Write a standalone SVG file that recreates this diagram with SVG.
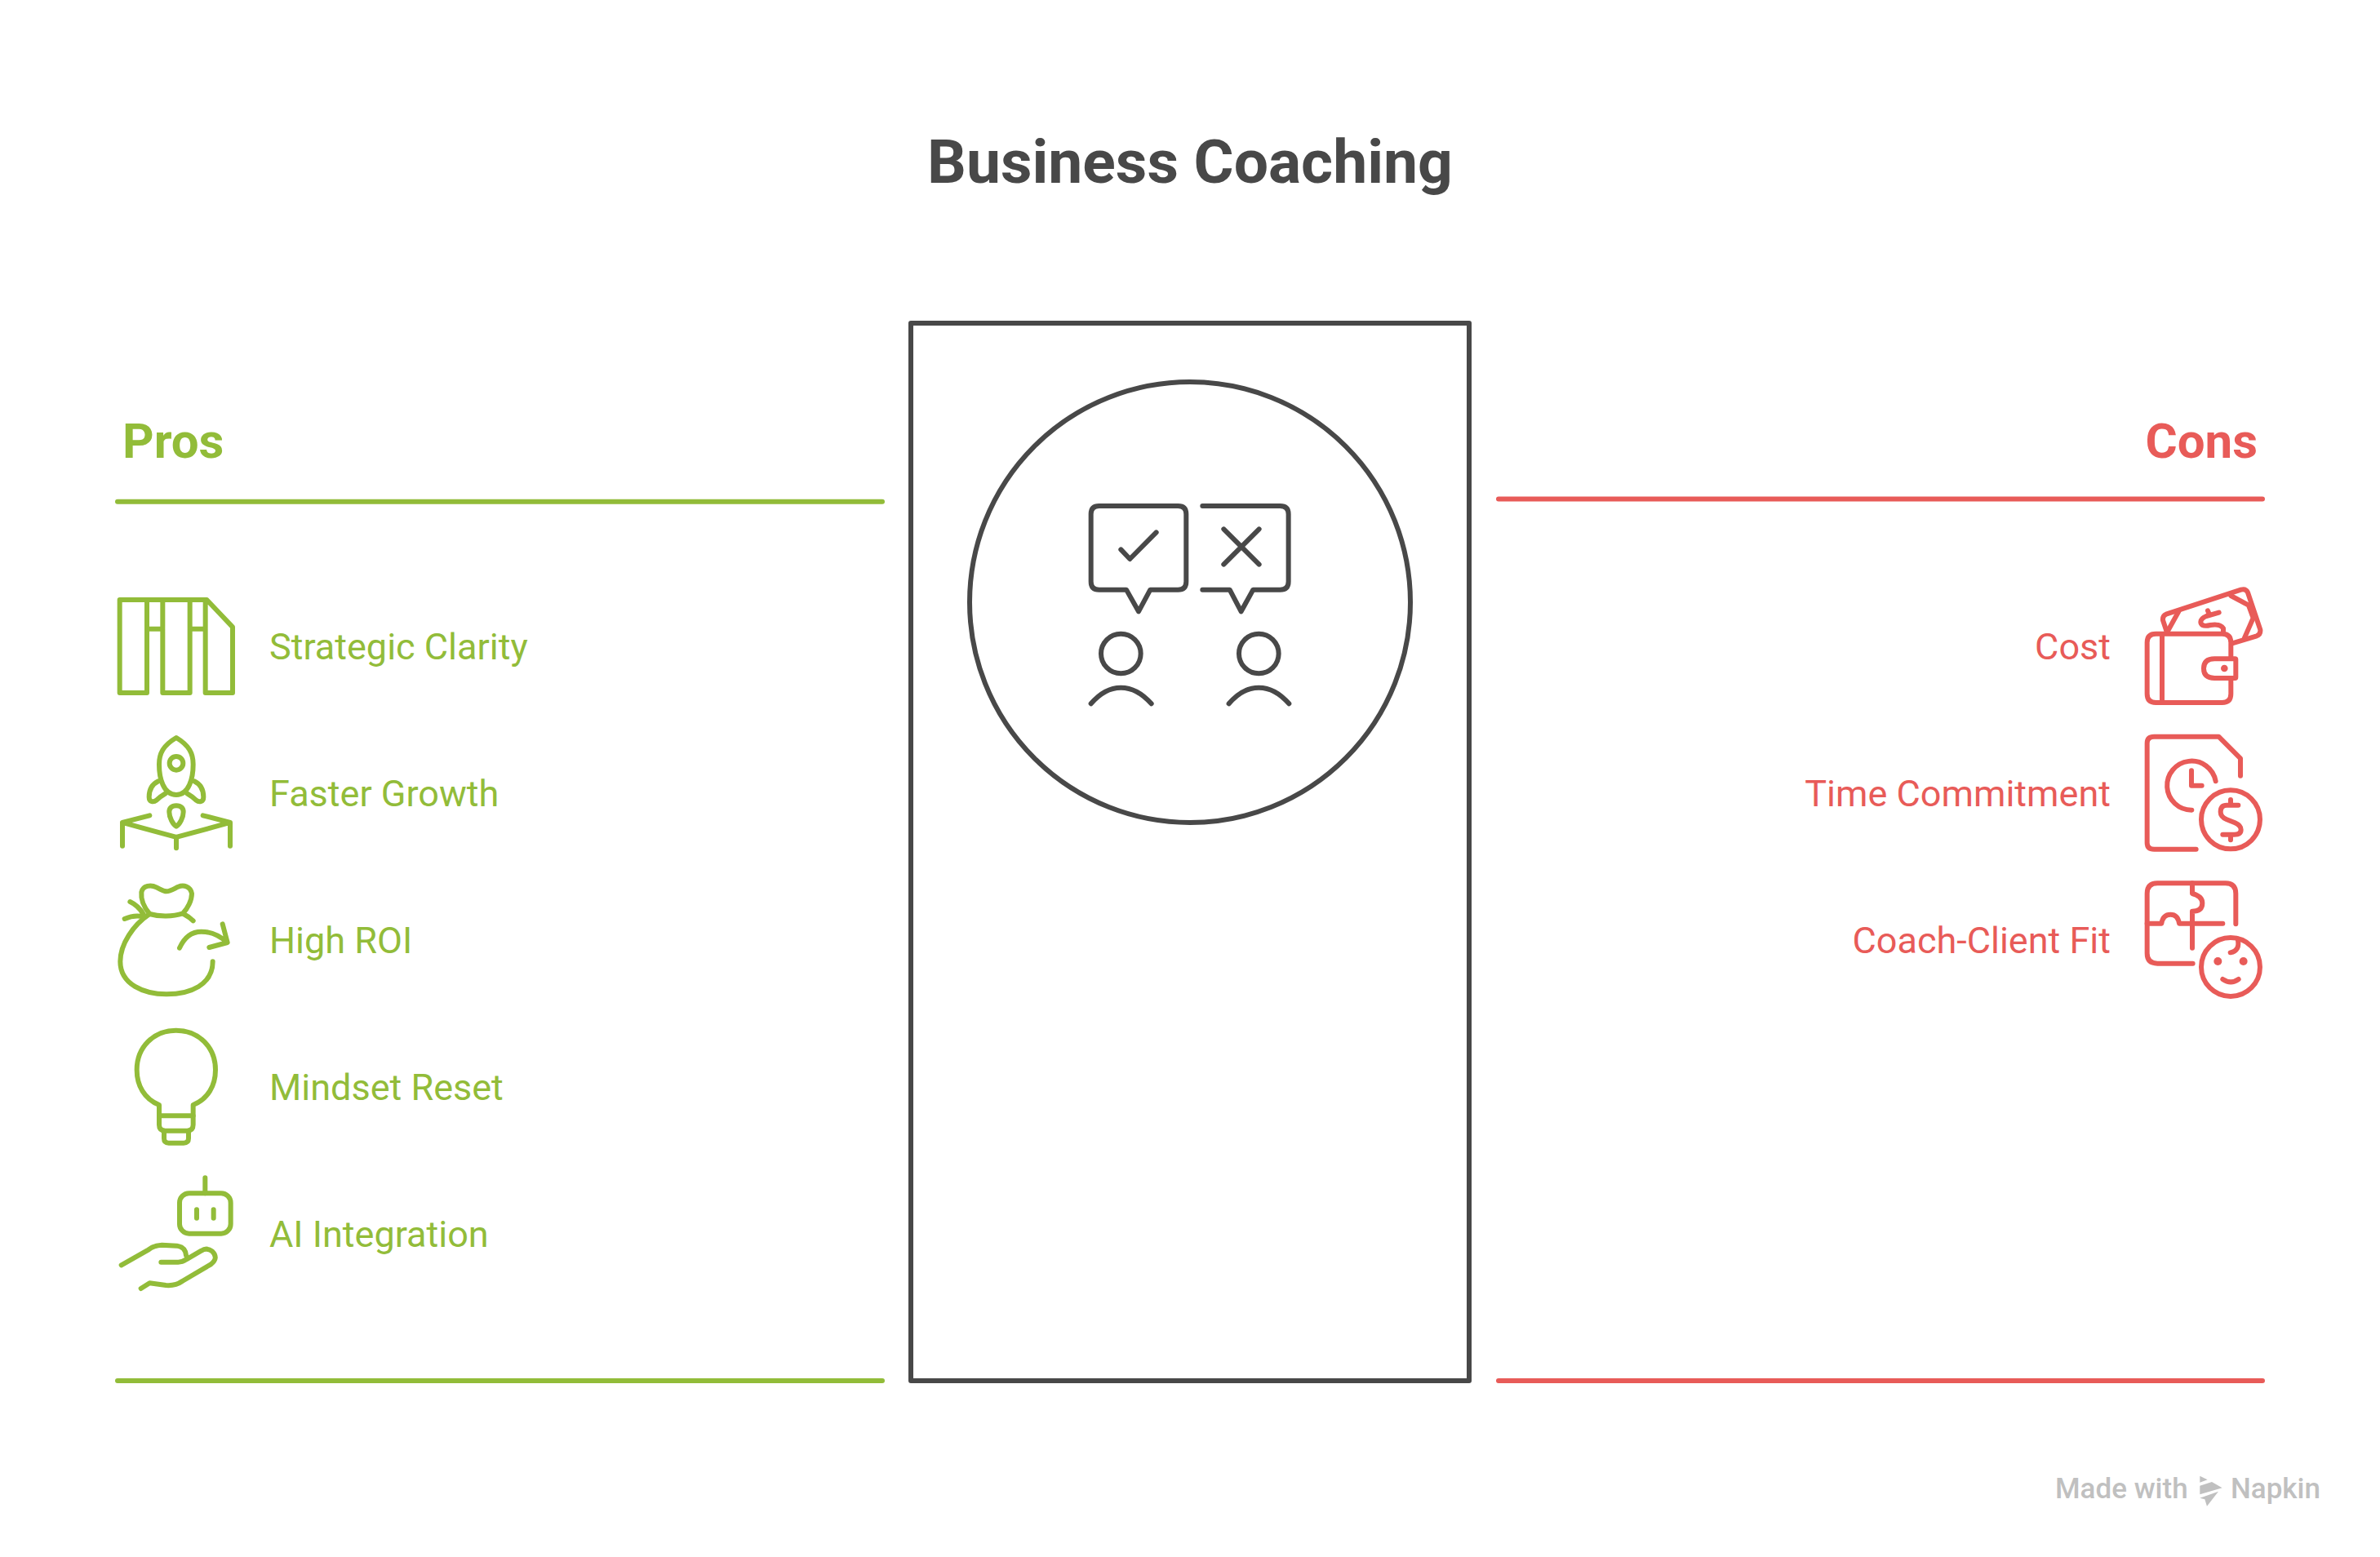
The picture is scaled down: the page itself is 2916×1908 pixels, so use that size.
<svg xmlns="http://www.w3.org/2000/svg" width="2916" height="1908" viewBox="0 0 2916 1908">
<style>
text{font-family:Roboto,"Liberation Sans",sans-serif}
.title{font-size:75px;font-weight:700;fill:#484848;text-anchor:middle}
.h{font-size:60px;font-weight:700}
.l{font-size:45px}
.g{fill:#92bc39}.r{fill:#e85b58}.e{text-anchor:end}
.rg,.rr{stroke-width:6;fill:none;stroke-linecap:round}
.rg{stroke:#92bc39}.rr{stroke:#e85b58}
.ig,.ir,.ik{fill:none;stroke-width:18;stroke-linecap:round;stroke-linejoin:round}
.ig{stroke:#92bc39}.ir{stroke:#e85b58}.ik{stroke:#484848}
.dot{fill:#e85b58;stroke:none}
.wm{font-size:35px;font-weight:500;fill:#c0c0c0}
</style>
<rect width="2916" height="1908" fill="#fff"/>
<text class="title" x="1458" y="224">Business Coaching</text>
<g id="rules">
<path class="rg" d="M144 614.700H1081M144 1692H1081"/>
<path class="rr" d="M1836 611.500H2772M1836 1692H2772"/>
</g>
<g id="center">
<rect x="1116" y="396" width="684" height="1296" fill="none" stroke="#484848" stroke-width="6" stroke-linejoin="round"/>
<circle cx="1458" cy="738" r="270" fill="none" stroke="#484848" stroke-width="6"/>
<g class="ik" transform="translate(1300 590) scale(.3333)">
<path d="M140 90H430Q460 90 460 120V368Q460 398 430 398H328L285 478L240 398H140Q110 398 110 368V120Q110 90 140 90Z"/>
<path d="M220 250L253 285L350 187"/>
<path d="M520 90H805Q836 90 836 120V368Q836 398 805 398H706L662 478L620 398H520"/>
<path d="M598 175L728 305M728 175L598 305"/>
<circle cx="220" cy="633" r="73"/><path d="M110 817Q160 758 220 758Q280 758 332 817"/>
<circle cx="727" cy="633" r="73"/><path d="M617 817Q667 758 727 758Q787 758 838 817"/>
</g>
</g>
<g id="pros-header"><text class="h g" x="150" y="561">Pros</text></g>
<g id="cons-header"><text class="h r e" x="2766" y="561">Cons</text></g>
<g id="strategic-clarity">
<text class="l g" x="330" y="808">Strategic Clarity</text>
<g class="ig" transform="translate(120 700) scale(.3333)">
<path d="M80 105H400L495 205V447H395V105M180 105V447H80V105M238 105V447H338V105M180 212H238M338 212H395"/>
</g></g>
<g id="faster-growth">
<text class="l g" x="330" y="988">Faster Growth</text>
<g class="ig" transform="translate(120 700) scale(.3333)">
<path d="M288 612C240 640 225 670 225 710C225 760 240 822 288 822C335 822 350 760 350 710C350 670 335 640 288 612Z"/>
<circle cx="288" cy="706" r="25"/>
<path d="M222 772C195 785 188 805 188 830C188 850 205 850 215 842C225 832 235 825 247 818"/>
<path d="M354 772C381 785 388 805 388 830C388 850 371 850 361 842C351 832 341 825 329 818"/>
<path d="M288 862C270 862 262 872 262 885C262 905 275 930 288 938C301 930 314 905 314 885C314 872 306 862 288 862Z"/>
<path d="M190 898L90 924L288 978L486 924L386 898M90 924V1010M288 978V1018M486 924V1010"/>
</g></g>
<g id="high-roi">
<text class="l g" x="330" y="1168">High ROI</text>
<g class="ig" transform="translate(120 1060) scale(.3333)">
<path d="M190 180C165 150 158 120 160 100C165 75 195 72 215 82C235 92 240 97 252 97C265 97 275 90 295 80C315 72 340 78 345 105C345 130 330 160 312 178C275 190 225 190 190 180Z"/>
<path d="M190 180C130 220 82 290 82 355C82 440 170 475 252 475C340 475 422 440 422 355"/>
<path d="M118 135C140 145 155 160 168 182M98 198C120 188 145 185 168 190M315 180C330 188 340 195 350 205"/>
<path d="M300 305C320 260 350 245 380 245C415 245 450 262 475 285M458 217L476 285L409 303"/>
</g></g>
<g id="mindset-reset">
<text class="l g" x="330" y="1348">Mindset Reset</text>
<g class="ig" transform="translate(120 1060) scale(.3333)">
<path d="M225 882C170 860 143 810 143 753C143 670 205 608 287 608C370 608 432 670 432 753C432 810 405 860 350 882V955Q350 977 328 977H247Q225 977 225 955Z"/>
<path d="M225 922H350M243 977V1005Q243 1022 260 1022H315Q333 1022 333 1005V977"/>
</g></g>
<g id="ai-integration">
<text class="l g" x="330" y="1528">AI Integration</text>
<g class="ig" transform="translate(120 1420) scale(.3333)">
<rect x="300" y="127" width="188" height="148" rx="35"/>
<path d="M394 70V127M363 187V218M425 187V218"/>
<path d="M86 391L185 335Q205 318 235 317L290 320Q322 325 324 355"/>
<path d="M232 380H295Q310 380 325 370L380 338Q400 325 420 340Q445 365 415 388L310 450Q285 468 250 465L190 457L158 477"/>
</g></g>
<g id="cost">
<text class="l r e" x="2586" y="808">Cost</text>
<g class="ir" transform="translate(2600 700) scale(.3333)">
<path d="M400 320V262Q400 230 368 230H124Q92 230 92 262V451Q92 483 124 483H368Q400 483 400 451V393M147 230V483"/>
<path d="M415 322H340Q300 322 300 358Q300 393 340 393H415Q418 393 418 390V325Q418 322 415 322Z"/>
<circle class="dot" cx="376" cy="357" r="13"/>
<path d="M165 225L150 180Q148 165 162 158L437 68Q455 63 462 78L508 215Q510 232 495 238L405 265"/>
<path d="M208 148L165 225M400 90L465 125L482 172L450 245"/>
<path d="M356 152L310 165M315 145L322 162M310 165Q285 175 290 192Q296 205 325 198Q360 192 372 210V222"/>
</g></g>
<g id="time-commitment">
<text class="l r e" x="2586" y="988">Time Commitment</text>
<g class="ir" transform="translate(2600 700) scale(.3333)">
<path d="M272 1022H118Q92 1022 92 998V632Q92 608 118 608H355L435 688V752"/>
<path d="M344 772A90 90 0 1 0 256 878M255 733V788H293"/>
<circle cx="399" cy="913" r="108"/>
<path d="M427 860H385Q362 860 362 885Q362 903 385 913L415 925Q437 935 437 950Q437 968 412 968H370M399 840V860M399 968V988"/>
</g></g>
<g id="coach-client-fit">
<text class="l r e" x="2586" y="1168">Coach-Client Fit</text>
<g class="ir" transform="translate(2600 1060) scale(.3333)">
<path d="M418 217V105Q418 67 380 67H130Q92 67 92 105V325Q92 362 130 362H260"/>
<path d="M258 67V105Q295 115 295 140Q295 170 258 170V305"/>
<path d="M92 215H145Q150 182 178 182Q205 182 210 215H370"/>
<circle cx="399" cy="375" r="108"/>
<circle class="dot" cx="352" cy="354" r="15"/><circle class="dot" cx="446" cy="354" r="15"/>
<path d="M370 420Q400 440 428 420M398 322Q435 315 425 272"/>
</g></g>
<g id="watermark">
<text class="wm" x="2518" y="1836">Made with</text>
<g fill="#c0c0c0" transform="translate(2500 1790) scale(.3333)">
<path d="M586 56L614 70L586 80Z M586 92L630 78L668 100L586 124Z M586 137L654 113L612 167L604 142Z"/>
</g>
<text class="wm" x="2733" y="1836">Napkin</text>
</g>
</svg>
